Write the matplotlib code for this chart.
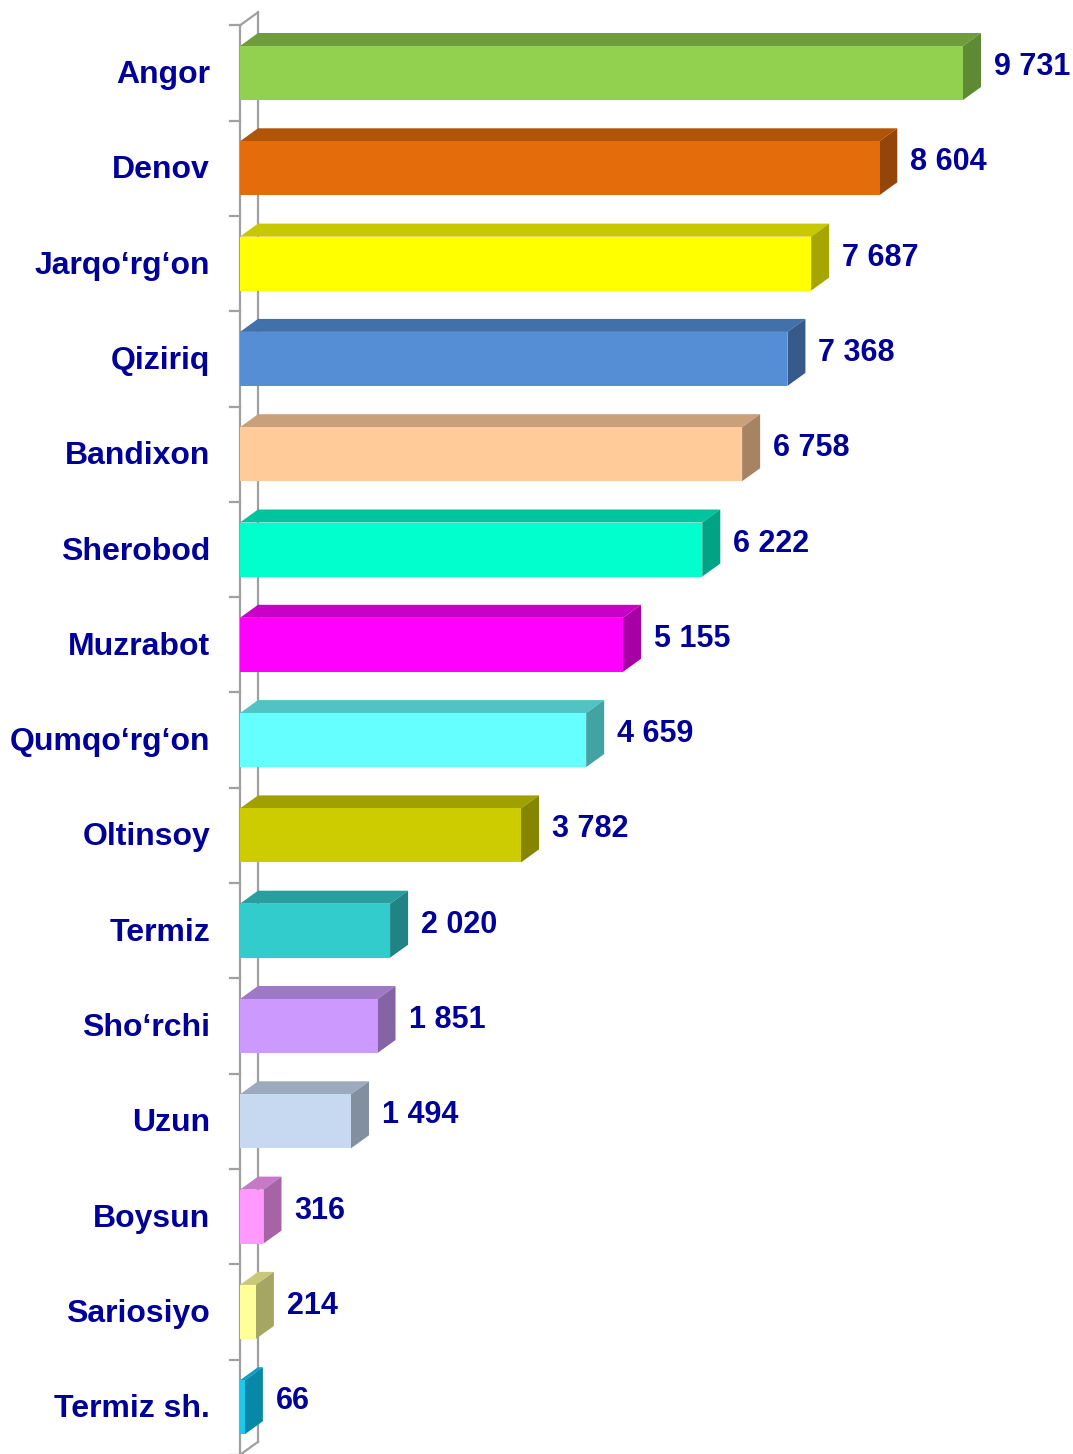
import numpy as np
import matplotlib.pyplot as plt
from matplotlib.patches import Polygon

districts = ["Angor", "Denov", "Jarqo‘rg‘on", "Qiziriq", "Bandixon", "Sherobod",
             "Muzrabot", "Qumqo‘rg‘on", "Oltinsoy", "Termiz", "Sho‘rchi", "Uzun",
             "Boysun", "Sariosiyo", "Termiz sh."]
values = [9731, 8604, 7687, 7368, 6758, 6222, 5155, 4659, 3782, 2020, 1851, 1494,
          316, 214, 66]
value_labels = ["9 731", "8 604", "7 687", "7 368", "6 758", "6 222", "5 155", "4 659",
                "3 782", "2 020", "1 851", "1 494", "316", "214", "66"]
front_colors = ["#92D050", "#E46C0A", "#FFFF00", "#558ED5", "#FFCC99", "#00FFCC",
                "#FF00FF", "#66FFFF", "#CCCC00", "#33CCCC", "#CC99FF", "#C6D9F1",
                "#FF99FF", "#FFFF99", "#1CC8EC"]
top_colors = ["#6F9C3D", "#B05408", "#C8C800", "#4270AA", "#C9A07A", "#00C49E",
              "#C800C8", "#50C4C4", "#A0A000", "#289E9E", "#A078C8", "#9BAABD",
              "#C878C8", "#C8C878", "#0AA0C0"]
side_colors = ["#5E8A33", "#944509", "#A6A600", "#365A8C", "#A88363", "#00A383",
               "#A600A6", "#42A3A3", "#858500", "#218484", "#8564A6", "#818F9F",
               "#A664A6", "#A6A664", "#0888A8"]

px = 0.0743          # pixels per unit on x
step = 95.3          # pixels per category
dx = 18 / px         # depth offset (value units)
dy = 13 / step       # depth offset (category units)
h = 54 / step

fig = plt.figure(figsize=(10.73, 14.54), dpi=100)
ax = fig.add_axes([0, 0, 1, 1])
ax.set_xlim(-240 / px, 833 / px)
ax.set_ylim((1454 - 73) / step, -73 / step)
ax.axis("off")

n = len(districts)
y = np.arange(n)
wall = "#A0A0A0"
# back wall line and front axis line
ax.plot([dx, dx], [-0.5 - dy, n - 0.5 - dy], color=wall, lw=1.6, zorder=1)
ax.plot([0, 0], [-0.5, n - 0.5], color=wall, lw=1.6, zorder=1)
ax.plot([0, dx], [-0.5, -0.5 - dy], color=wall, lw=1.6, zorder=1)
ax.plot([0, dx], [n - 0.5, n - 0.5 - dy], color=wall, lw=1.6, zorder=1)
for b in np.arange(n + 1) - 0.5:
    ax.plot([-135, 0], [b, b], color=wall, lw=1.6, zorder=1)

ax.barh(y, values, height=h, color=front_colors, zorder=3)
for i, v in enumerate(values):
    top = i - h / 2
    bot = i + h / 2
    ax.add_patch(Polygon([(0, top), (v, top), (v + dx, top - dy), (dx, top - dy)],
                         closed=True, facecolor=top_colors[i], edgecolor="none", zorder=2))
    ax.add_patch(Polygon([(v, top), (v + dx, top - dy), (v + dx, bot - dy), (v, bot)],
                         closed=True, facecolor=side_colors[i], edgecolor="none", zorder=2))
    ax.text(v + dx + 13 / px, i - 6 / step, value_labels[i], ha="left", va="center",
            fontsize=22, fontweight="bold", color="#000099", family="Liberation Sans")
    ax.text(-30 / px, i + 2 / step, districts[i], ha="right", va="center",
            fontsize=23, fontweight="bold", color="#000099", family="Liberation Sans")

fig.savefig("out.png", dpi=100)
